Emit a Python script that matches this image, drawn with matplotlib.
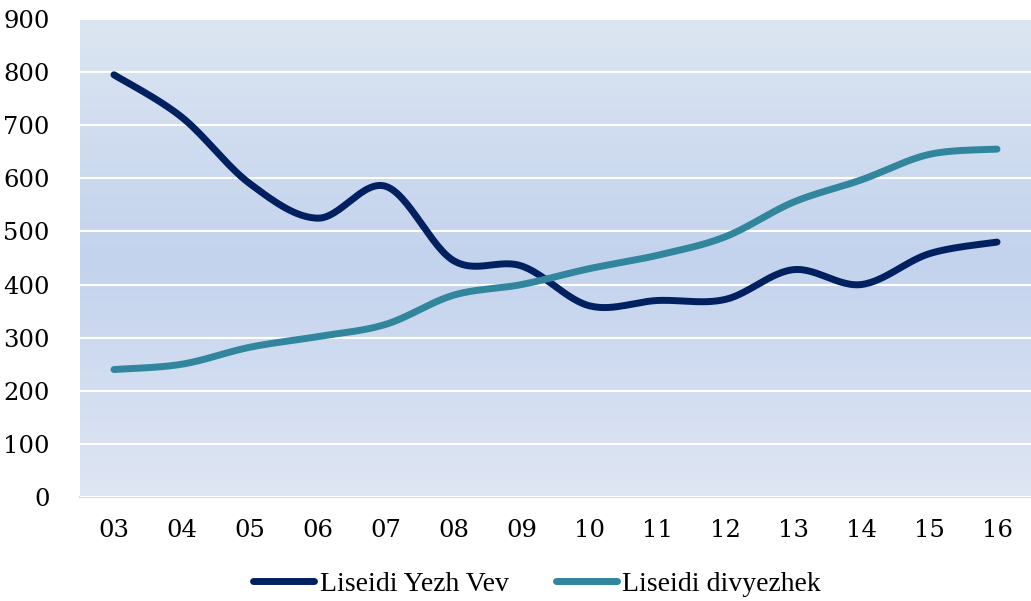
import numpy as np
import matplotlib.pyplot as plt
from matplotlib.colors import LinearSegmentedColormap

years = ["03", "04", "05", "06", "07", "08", "09", "10", "11", "12", "13", "14", "15", "16"]
yezh_vev = [795, 715, 590, 525, 585, 445, 435, 360, 370, 372, 428, 400, 458, 480]
divyezhek = [240, 250, 282, 302, 325, 380, 400, 430, 455, 490, 555, 597, 645, 655]


def smooth(y, n=30):
    # Catmull-Rom curve through the points, like Excel's smoothed line
    y = np.asarray(y, dtype=float)
    x = np.arange(len(y), dtype=float)
    px = np.concatenate([[x[0]], x, [x[-1]]])
    py = np.concatenate([[y[0]], y, [y[-1]]])
    xs, ys = [], []
    t = np.linspace(0, 1, n)
    for i in range(1, len(px) - 2):
        for p, out in ((px, xs), (py, ys)):
            p0, p1, p2, p3 = p[i - 1], p[i], p[i + 1], p[i + 2]
            out.append(0.5 * (2 * p1 + (-p0 + p2) * t
                              + (2 * p0 - 5 * p1 + 4 * p2 - p3) * t ** 2
                              + (-p0 + 3 * p1 - 3 * p2 + p3) * t ** 3))
    return np.concatenate(xs), np.concatenate(ys)


plt.rcParams["font.family"] = ["Liberation Serif", "DejaVu Serif"]

fig = plt.figure(figsize=(10.31, 6.01), dpi=100)
ax = fig.add_axes([80 / 1031, 104 / 601, 951 / 1031, 478 / 601])

cmap = LinearSegmentedColormap.from_list("bg", ["#dfe6f4", "#c3d3ed", "#dce6f2"])
grad = np.linspace(0, 1, 256).reshape(-1, 1)
ax.imshow(grad, cmap=cmap, origin="lower", aspect="auto",
          extent=[-0.5, len(years) - 0.5, 0, 900], zorder=0)

ax.set_xlim(-0.5, len(years) - 0.5)
ax.set_ylim(0, 900)
ax.set_yticks(np.arange(0, 901, 100))
ax.set_xticks(np.arange(len(years)))
ax.set_xticklabels(years)
ax.grid(axis="y", color="white", linewidth=1.5, zorder=1)
ax.set_axisbelow(False)

x1, y1 = smooth(yezh_vev)
x2, y2 = smooth(divyezhek)
ax.plot(x1, y1, color="#002060", linewidth=5, solid_capstyle="round",
        label="Liseidi Yezh Vev", zorder=3)
ax.plot(x2, y2, color="#31859c", linewidth=5, solid_capstyle="round",
        label="Liseidi divyezhek", zorder=3)

for s in ["top", "right", "left"]:
    ax.spines[s].set_visible(False)
ax.spines["bottom"].set_color("#d9d9d9")
ax.spines["bottom"].set_linewidth(1.5)
ax.tick_params(axis="both", length=0)
ax.tick_params(axis="x", pad=16)
ax.tick_params(axis="y", pad=22)
for lab in ax.get_xticklabels() + ax.get_yticklabels():
    lab.set_fontfamily("DejaVu Serif")
    lab.set_fontsize(17.5)

fig.legend(loc="center", bbox_to_anchor=(0.521, 0.028), ncol=2, frameon=False,
           fontsize=20, handlelength=2.2, handletextpad=0.2, columnspacing=1.7)

fig.savefig("out.png", dpi=100)
